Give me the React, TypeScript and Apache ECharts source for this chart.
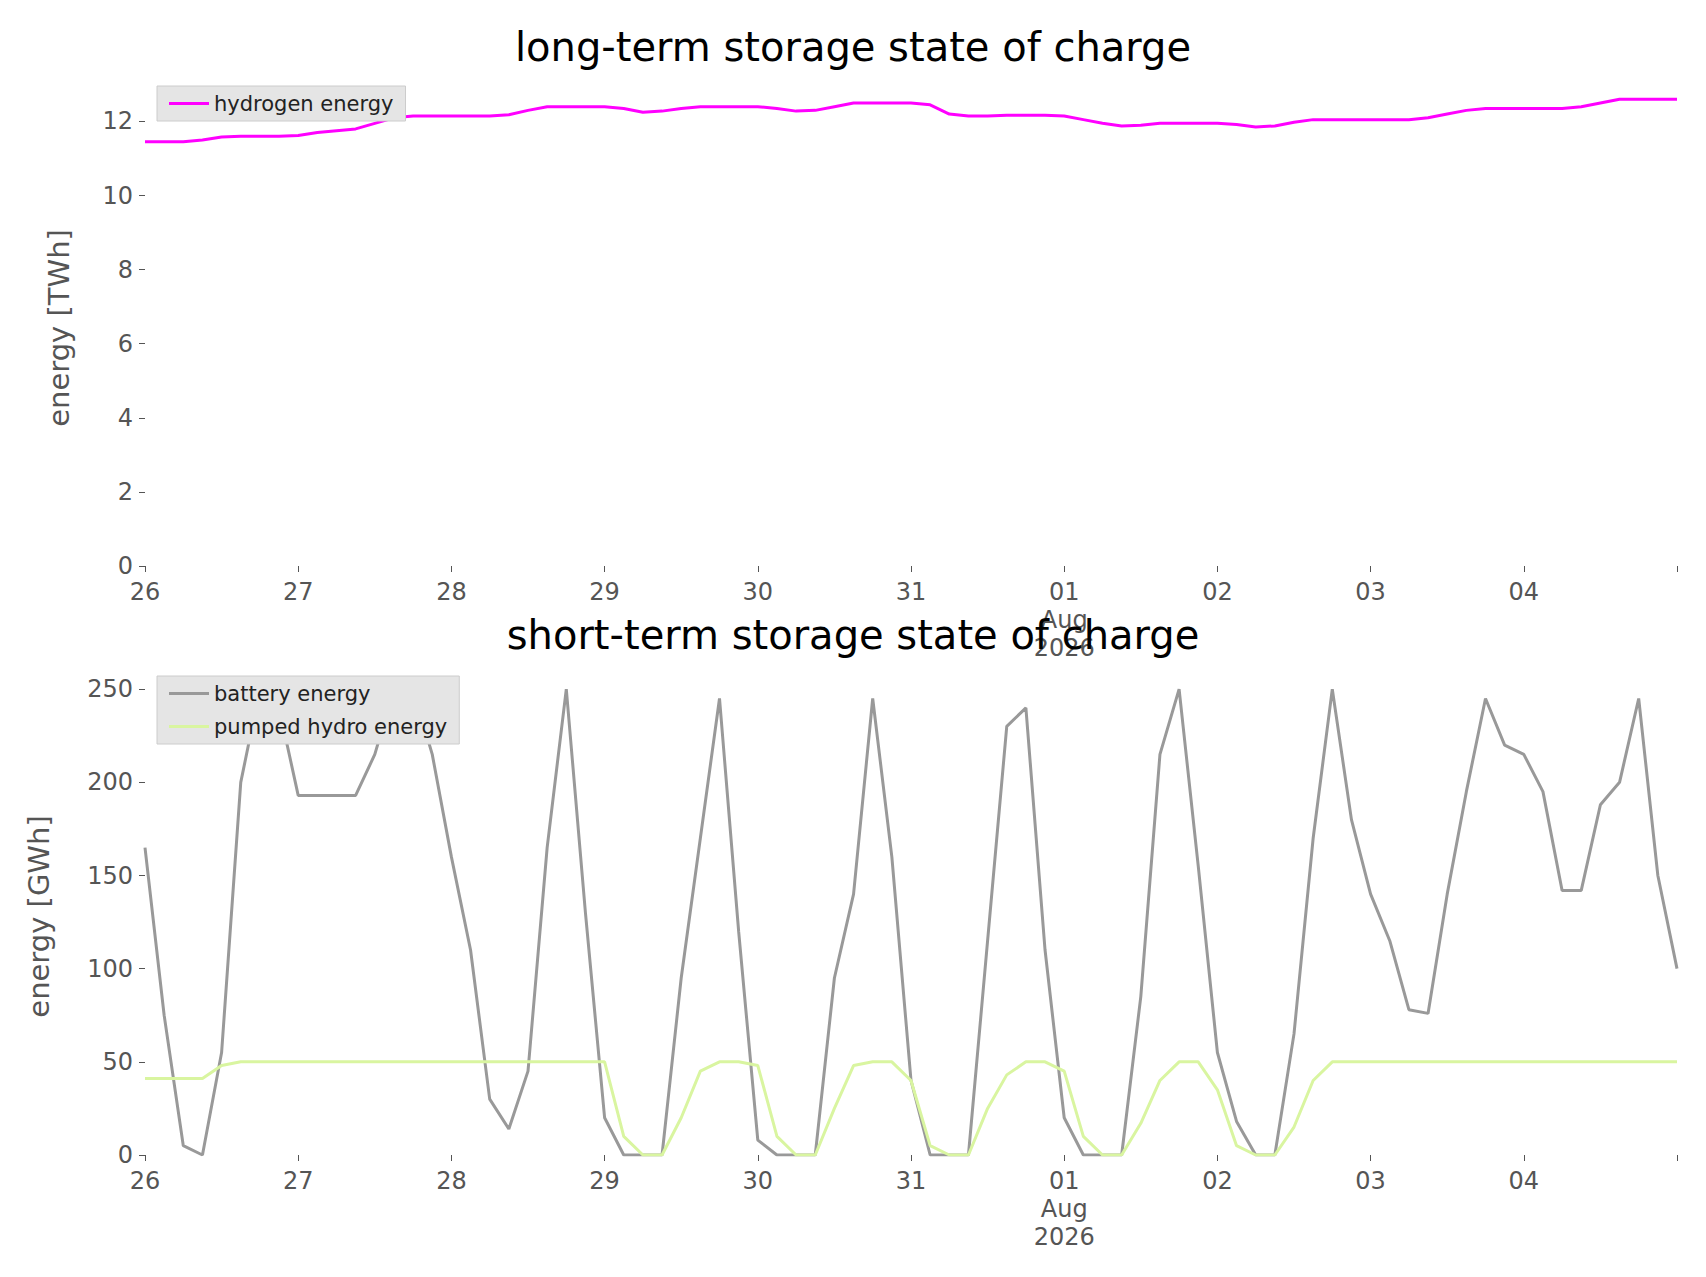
import React, { useEffect, useRef } from "react";
import * as echarts from "echarts";

const dayLabels = ["26", "27", "28", "29", "30", "31", "01\nAug\n2026", "02", "03", "04", ""];

const hydrogen = [
  11.45, 11.45, 11.45, 11.5, 11.58, 11.6, 11.6, 11.6,
  11.62, 11.7, 11.75, 11.8, 11.95, 12.1, 12.15, 12.15,
  12.15, 12.15, 12.15, 12.18, 12.3, 12.4, 12.4, 12.4,
  12.4, 12.35, 12.25, 12.28, 12.35, 12.4, 12.4, 12.4,
  12.4, 12.35, 12.28, 12.3, 12.4, 12.5, 12.5, 12.5,
  12.5, 12.45, 12.2, 12.15, 12.15, 12.17, 12.17, 12.17,
  12.15, 12.05, 11.95, 11.88, 11.9, 11.95, 11.95, 11.95,
  11.95, 11.92, 11.85, 11.88, 11.98, 12.05, 12.05, 12.05,
  12.05, 12.05, 12.05, 12.1, 12.2, 12.3, 12.35, 12.35,
  12.35, 12.35, 12.35, 12.4, 12.5, 12.6, 12.6, 12.6, 12.6,
];

const battery = [
  165, 75, 5, 0, 55, 200, 250, 240,
  193, 193, 193, 193, 215, 250, 250, 215,
  160, 110, 30, 14, 45, 165, 250, 130,
  20, 0, 0, 0, 95, 170, 245, 120,
  8, 0, 0, 0, 95, 140, 245, 160,
  40, 0, 0, 0, 115, 230, 240, 110,
  20, 0, 0, 0, 85, 215, 250, 155,
  55, 18, 0, 0, 65, 170, 250, 180,
  140, 115, 78, 76, 140, 195, 245, 220,
  215, 195, 142, 142, 188, 200, 245, 150, 100,
];

const pumpedHydro = [
  41, 41, 41, 41, 48, 50, 50, 50,
  50, 50, 50, 50, 50, 50, 50, 50,
  50, 50, 50, 50, 50, 50, 50, 50,
  50, 10, 0, 0, 20, 45, 50, 50,
  48, 10, 0, 0, 25, 48, 50, 50,
  40, 5, 0, 0, 25, 43, 50, 50,
  45, 10, 0, 0, 17, 40, 50, 50,
  35, 5, 0, 0, 15, 40, 50, 50,
  50, 50, 50, 50, 50, 50, 50, 50,
  50, 50, 50, 50, 50, 50, 50, 50, 50,
];

const pts = (arr: number[]) => arr.map((v, i) => [i * 3, v]);

export default function App() {
  const ref = useRef<HTMLDivElement>(null);
  useEffect(() => {
    const chart = echarts.init(ref.current!, null, { renderer: "svg" });
    const xAxis = (gi: number) => ({
      type: "value", gridIndex: gi, min: 0, max: 240, interval: 24,
      axisLine: { show: false }, splitLine: { show: false },
      axisTick: { show: true, length: 6, lineStyle: { color: "#555" } },
      axisLabel: {
        color: "#555", fontSize: 24, fontFamily: "DejaVu Sans", margin: 12, lineHeight: 28,
        formatter: (v: number) => dayLabels[Math.round(v / 24)] ?? "",
      },
    });
    const yAxis = (gi: number, max: number, interval: number, name: string) => ({
      type: "value", gridIndex: gi, min: 0, max, interval,
      name, nameLocation: "middle", nameGap: gi === 0 ? 72 : 92,
      nameTextStyle: { color: "#555", fontSize: 29, fontFamily: "DejaVu Sans" },
      axisLine: { show: false }, splitLine: { show: false },
      axisTick: { show: true, length: 6, lineStyle: { color: "#555" } },
      axisLabel: { color: "#555", fontSize: 24, fontFamily: "DejaVu Sans", showMaxLabel: false, margin: 12 },
    });
    chart.setOption({
      animation: false,
      backgroundColor: "#fff",
      title: [
        { text: "long-term storage state of charge", left: "center", top: 14,
          textStyle: { fontSize: 40, fontWeight: "normal", color: "#000", fontFamily: "DejaVu Sans" } },
        { text: "short-term storage state of charge", left: "center", top: 602,
          textStyle: { fontSize: 40, fontWeight: "normal", color: "#000", fontFamily: "DejaVu Sans" } },
      ],
      legend: [
        { data: ["hydrogen energy"], left: 149, top: 78, orient: "vertical",
          backgroundColor: "#e5e5e5", borderColor: "#ccc", borderWidth: 1, padding: [7, 12],
          itemWidth: 40, itemHeight: 3, icon: "rect",
          textStyle: { fontSize: 21, color: "#222", fontFamily: "DejaVu Sans" } },
        { data: ["battery energy", "pumped hydro energy"], left: 149, top: 668, orient: "vertical",
          backgroundColor: "#e5e5e5", borderColor: "#ccc", borderWidth: 1, padding: [7, 12], itemGap: 12,
          itemWidth: 40, itemHeight: 3, icon: "rect",
          textStyle: { fontSize: 21, color: "#222", fontFamily: "DejaVu Sans" } },
      ],
      grid: [
        { left: 137, right: 21, top: 82, height: 476 },
        { left: 137, right: 21, top: 670, height: 477 },
      ],
      xAxis: [xAxis(0), xAxis(1)],
      yAxis: [yAxis(0, 12.85, 2, "energy [TWh]"), yAxis(1, 256, 50, "energy [GWh]")],
      series: [
        { name: "hydrogen energy", type: "line", xAxisIndex: 0, yAxisIndex: 0, data: pts(hydrogen),
          showSymbol: false, lineStyle: { color: "#ff00ff", width: 3 }, itemStyle: { color: "#ff00ff" } },
        { name: "battery energy", type: "line", xAxisIndex: 1, yAxisIndex: 1, data: pts(battery),
          showSymbol: false, lineStyle: { color: "#999999", width: 3 }, itemStyle: { color: "#999999" } },
        { name: "pumped hydro energy", type: "line", xAxisIndex: 1, yAxisIndex: 1, data: pts(pumpedHydro),
          showSymbol: false, lineStyle: { color: "#d9f5a0", width: 3 }, itemStyle: { color: "#d9f5a0" } },
      ],
    });
    return () => chart.dispose();
  }, []);
  return <div ref={ref} style={{ width: 1690, height: 1261 }} />;
}
